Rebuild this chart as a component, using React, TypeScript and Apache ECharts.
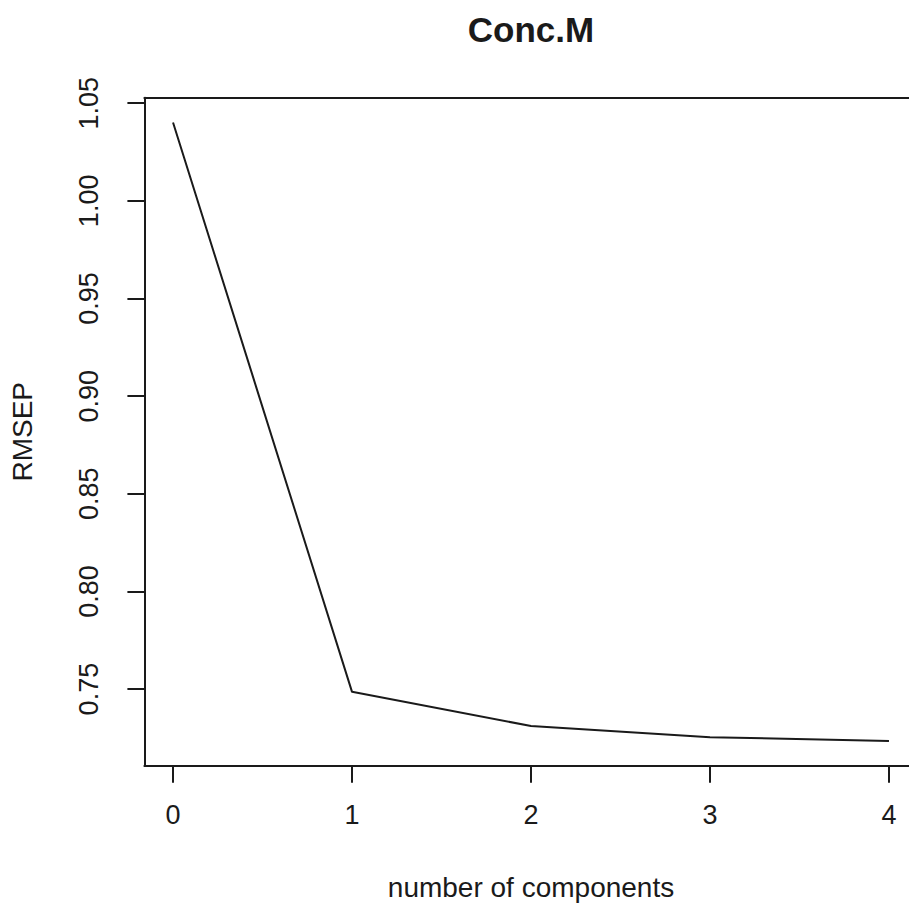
import React, { useEffect, useRef } from "react";
import * as echarts from "echarts";

const components = [0, 1, 2, 3, 4];
const rmsep = [1.0401, 0.7486, 0.7311, 0.7254, 0.7234];
const yTicks = [0.75, 0.8, 0.85, 0.9, 0.95, 1.0, 1.05];
const xTicks = [0, 1, 2, 3, 4];
const titleText = "Conc.M";
const xName = "number of components";
const yName = "RMSEP";

const FONT = "'Liberation Sans', Arial, sans-serif";
const INK = "#1a1a1a";

export default function App() {
  const ref = useRef<HTMLDivElement>(null);
  useEffect(() => {
    if (!ref.current) return;
    const chart = echarts.init(ref.current, undefined, { renderer: "svg" });
    const yMinD = Math.min(...rmsep);
    const yMaxD = Math.max(...rmsep);
    const yPad = (yMaxD - yMinD) * 0.04;
    const xMinD = Math.min(...components);
    const xMaxD = Math.max(...components);
    const xPad = (xMaxD - xMinD) * 0.04;
    const gridLeft = 144.4;
    const gridTop = 97.8;
    const gridW = 773.2;
    const gridH = 668;
    const axisLineStyle = { color: INK, width: 2 };
    chart.setOption({
      animation: false,
      backgroundColor: "#ffffff",
      graphic: [
        {
          type: "text",
          x: gridLeft + gridW / 2,
          y: 29,
          style: {
            text: titleText,
            font: `bold 35px ${FONT}`,
            fill: INK,
            textAlign: "center",
            textVerticalAlign: "middle",
          },
        },
      ],
      grid: {
        left: gridLeft,
        top: gridTop,
        width: gridW,
        height: gridH,
        show: false,
        containLabel: false,
        outerBoundsMode: "none",
      },
      xAxis: [
        {
          type: "value",
          position: "bottom",
          min: xMinD - xPad,
          max: xMaxD + xPad,
          name: xName,
          nameLocation: "middle",
          nameGap: 108,
          nameTextStyle: { fontFamily: FONT, fontSize: 28, color: INK },
          axisLine: { show: true, onZero: false, lineStyle: axisLineStyle },
          splitLine: { show: false },
          axisTick: {
            show: true,
            inside: false,
            length: 17,
            customValues: xTicks,
            lineStyle: axisLineStyle,
          },
          axisLabel: {
            customValues: xTicks,
            margin: 36,
            fontFamily: FONT,
            fontSize: 27,
            color: INK,
            formatter: (v: number) => String(v),
          },
        },
        {
          type: "value",
          position: "top",
          min: xMinD - xPad,
          max: xMaxD + xPad,
          axisLine: { show: true, onZero: false, lineStyle: axisLineStyle },
          axisTick: { show: false },
          axisLabel: { show: false },
          splitLine: { show: false },
        },
      ],
      yAxis: {
        type: "value",
        position: "left",
        min: yMinD - yPad,
        max: yMaxD + yPad,
        name: yName,
        nameLocation: "middle",
        nameGap: 108,
        nameRotate: 90,
        nameTextStyle: { fontFamily: FONT, fontSize: 28, color: INK },
        axisLine: { show: true, onZero: false, lineStyle: axisLineStyle },
        splitLine: { show: false },
        axisTick: {
          show: true,
          inside: false,
          length: 17,
          customValues: yTicks,
          lineStyle: axisLineStyle,
        },
        axisLabel: {
          customValues: yTicks,
          rotate: 90,
          margin: 42,
          fontFamily: FONT,
          fontSize: 27,
          color: INK,
          formatter: (v: number) => v.toFixed(2),
        },
      },
      series: [
        {
          type: "line",
          xAxisIndex: 0,
          data: components.map((c, i) => [c, rmsep[i]]),
          showSymbol: false,
          symbol: "none",
          lineStyle: { color: INK, width: 2 },
        },
      ],
    });
    return () => chart.dispose();
  }, []);
  return (
    <div
      style={{
        position: "fixed",
        left: 0,
        top: 0,
        width: 909,
        height: 903,
        overflow: "hidden",
        background: "#fff",
      }}
    >
      <div ref={ref} style={{ width: 1000, height: 903 }} />
    </div>
  );
}
